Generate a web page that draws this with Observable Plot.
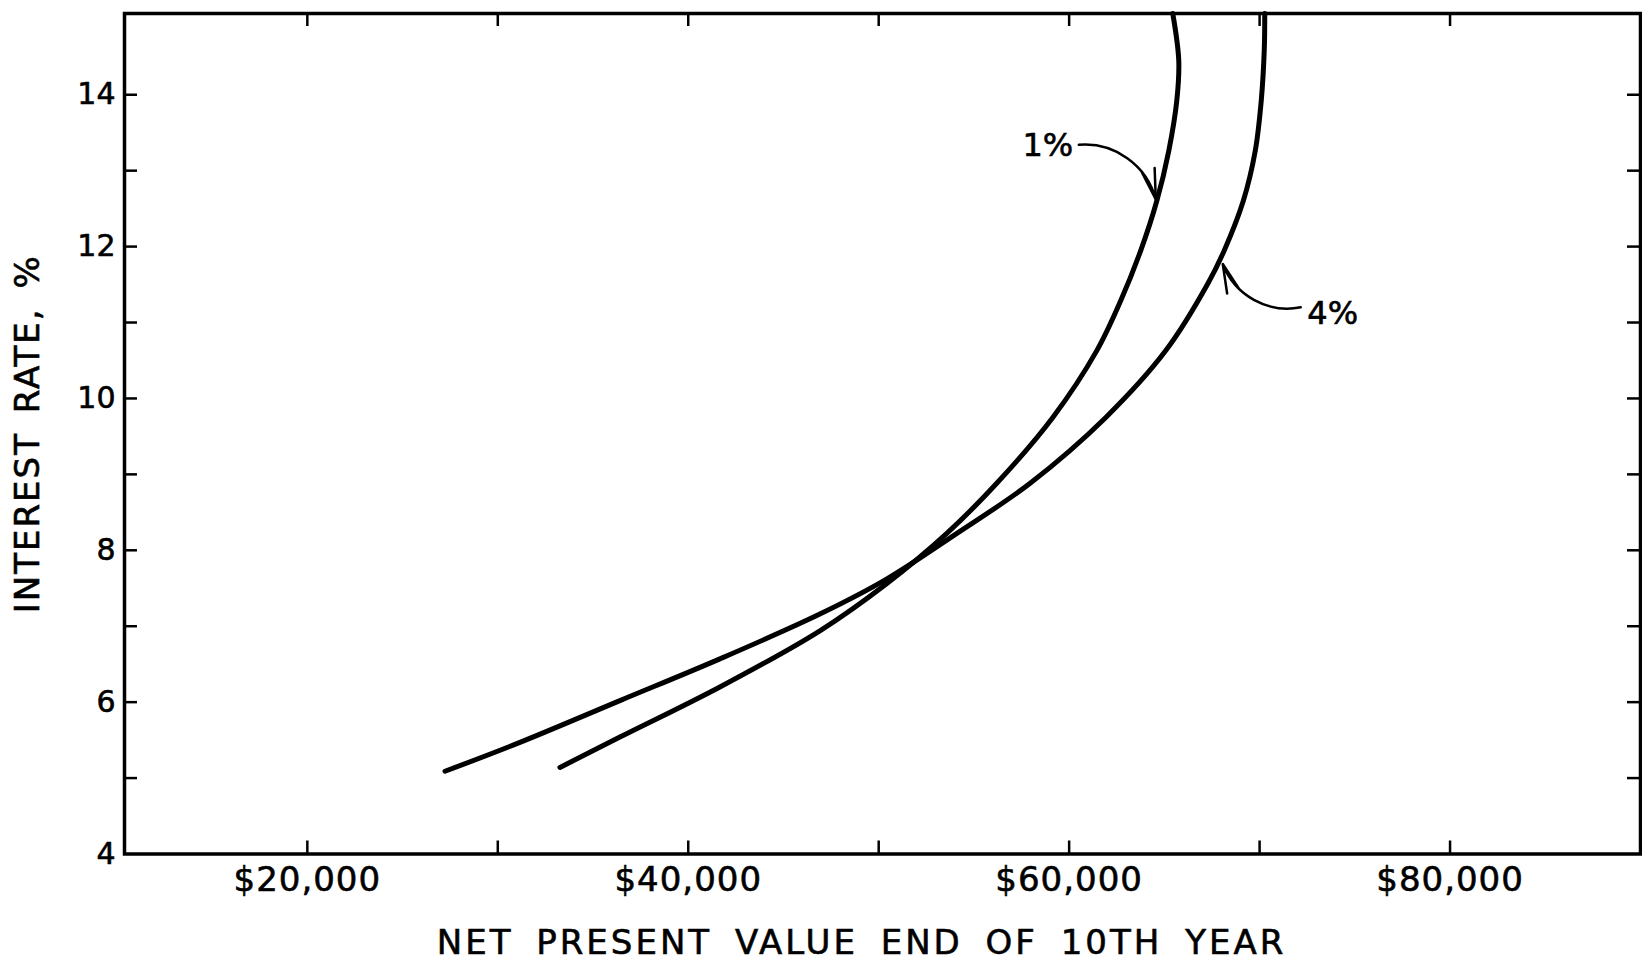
<!DOCTYPE html>
<html><head><meta charset="utf-8">
<script src="https://cdn.jsdelivr.net/npm/d3@7"></script>
<script src="https://cdn.jsdelivr.net/npm/@observablehq/plot@0.6"></script>
<style>
html,body{margin:0;padding:0;background:#fff;}
#chart svg{display:block;}
#chart svg text{stroke:black;stroke-width:0.6px;}
</style></head><body><div id="chart"></div>
<script>
// Curve "1%": interest rate (%) vs. net present value ($)
const rate1 = [5.14, 5.54, 6.20, 6.94, 7.56, 8.22, 8.88, 9.75, 10.63, 11.29, 11.95, 12.60, 13.26, 13.92, 14.45, 15.07];
const npv1  = [33264, 36414, 41663, 46912, 50413, 53563, 56187, 59142, 61452, 62712, 63762, 64601, 65231, 65651, 65756, 65441];
// Curve "4%"
const rate4 = [5.09, 5.47, 6.02, 6.57, 7.16, 7.62, 8.22, 8.88, 9.75, 10.63, 11.51, 11.95, 12.60, 13.26, 13.92, 14.58, 15.07];
const npv4  = [27228, 31165, 36414, 41663, 46912, 50413, 54087, 57935, 61924, 65074, 67279, 68145, 69142, 69772, 70086, 70244, 70271];

const yTicks = [5, 6, 7, 8, 9, 10, 11, 12, 13, 14];
const yTickLabels = [4, 6, 8, 10, 12, 14];
const xTicks = [20000, 30000, 40000, 50000, 60000, 70000, 80000];
const xTickLabels = [20000, 40000, 60000, 80000];

const annoText = ["1%", "4%"];
const annoX = [58879, 73840];
const annoY = [13.33, 11.12];
const arrowX1 = [60508, 72159];
const arrowY1 = [13.34, 11.20];
const arrowX2 = [64550, 68066];
const arrowY2 = [12.62, 11.77];

const xTitle = "NET PRESENT VALUE END OF 10TH YEAR";
const yTitle = "INTEREST RATE, %";

const W = 1642, H = 962;
const mL = 124, mR = 2, mT = 13, mB = 108.5;
const pw = W - mL - mR, ph = H - mT - mB;
const tickLen = 13;

const line1 = rate1.map((r, i) => ({rate: r, npv: npv1[i]}));
const line4 = rate4.map((r, i) => ({rate: r, npv: npv4[i]}));
const annos = annoText.map((t, i) => ({t, x: annoX[i], y: annoY[i]}));
const arrows = arrowX1.map((x1, i) => ({x1, y1: arrowY1[i], x2: arrowX2[i], y2: arrowY2[i]}));

const chart = Plot.plot({
  width: W, height: H,
  marginLeft: mL, marginRight: mR, marginTop: mT, marginBottom: mB,
  style: {fontFamily: "DejaVu Sans", color: "black", background: "white"},
  x: {domain: [10400, 90000]},
  y: {domain: [4, 15.07]},
  marks: [
    Plot.frame({strokeWidth: 3.5, stroke: "black"}),
    // inward ticks on all four sides
    Plot.tickY(yTicks, {y: d => d, insetRight: pw - tickLen, strokeWidth: 2.5}),
    Plot.tickY(yTicks, {y: d => d, insetLeft: pw - tickLen, strokeWidth: 2.5}),
    Plot.tickX(xTicks, {x: d => d, insetTop: ph - tickLen, strokeWidth: 2.5}),
    Plot.tickX(xTicks, {x: d => d, insetBottom: ph - tickLen, strokeWidth: 2.5}),
    Plot.axisY(yTickLabels, {anchor: "left", tickSize: 0, tickPadding: 9, fontSize: 30, label: null,
      tickFormat: d => String(d)}),
    Plot.axisX(xTickLabels, {anchor: "bottom", tickSize: 0, tickPadding: 13, fontSize: 34, label: null,
      tickFormat: d => "$" + d3.format(",")(d)}),
    Plot.text([yTitle], {frameAnchor: "left", textAnchor: "middle", lineAnchor: "middle", rotate: -90, dx: -96, fontSize: 34}),
    Plot.text([xTitle], {frameAnchor: "bottom", textAnchor: "middle", lineAnchor: "middle", dy: 89, dx: -21, fontSize: 34}),
    Plot.line(line1, {x: "npv", y: "rate", curve: "catmull-rom", strokeWidth: 5, strokeLinecap: "round"}),
    Plot.line(line4, {x: "npv", y: "rate", curve: "catmull-rom", strokeWidth: 5, strokeLinecap: "round"}),
    Plot.arrow(arrows, {x1: "x1", y1: "y1", x2: "x2", y2: "y2", bend: 40, headLength: 20, headAngle: 25, strokeWidth: 2.5}),
    Plot.text(annos, {x: "x", y: "y", text: "t", fontSize: 32})
  ]
});
document.getElementById("chart").appendChild(chart);
// letter/word spacing of the lettered original
d3.select(chart).selectAll("text").each(function() {
  const t = this.textContent;
  if (t === xTitle) d3.select(this).style("letter-spacing", "3px").style("word-spacing", "9px");
  if (t === yTitle) d3.select(this).style("letter-spacing", "2px").style("word-spacing", "6px");
  if (t.startsWith("$")) d3.select(this).style("letter-spacing", "1px");
});
</script></body></html>
